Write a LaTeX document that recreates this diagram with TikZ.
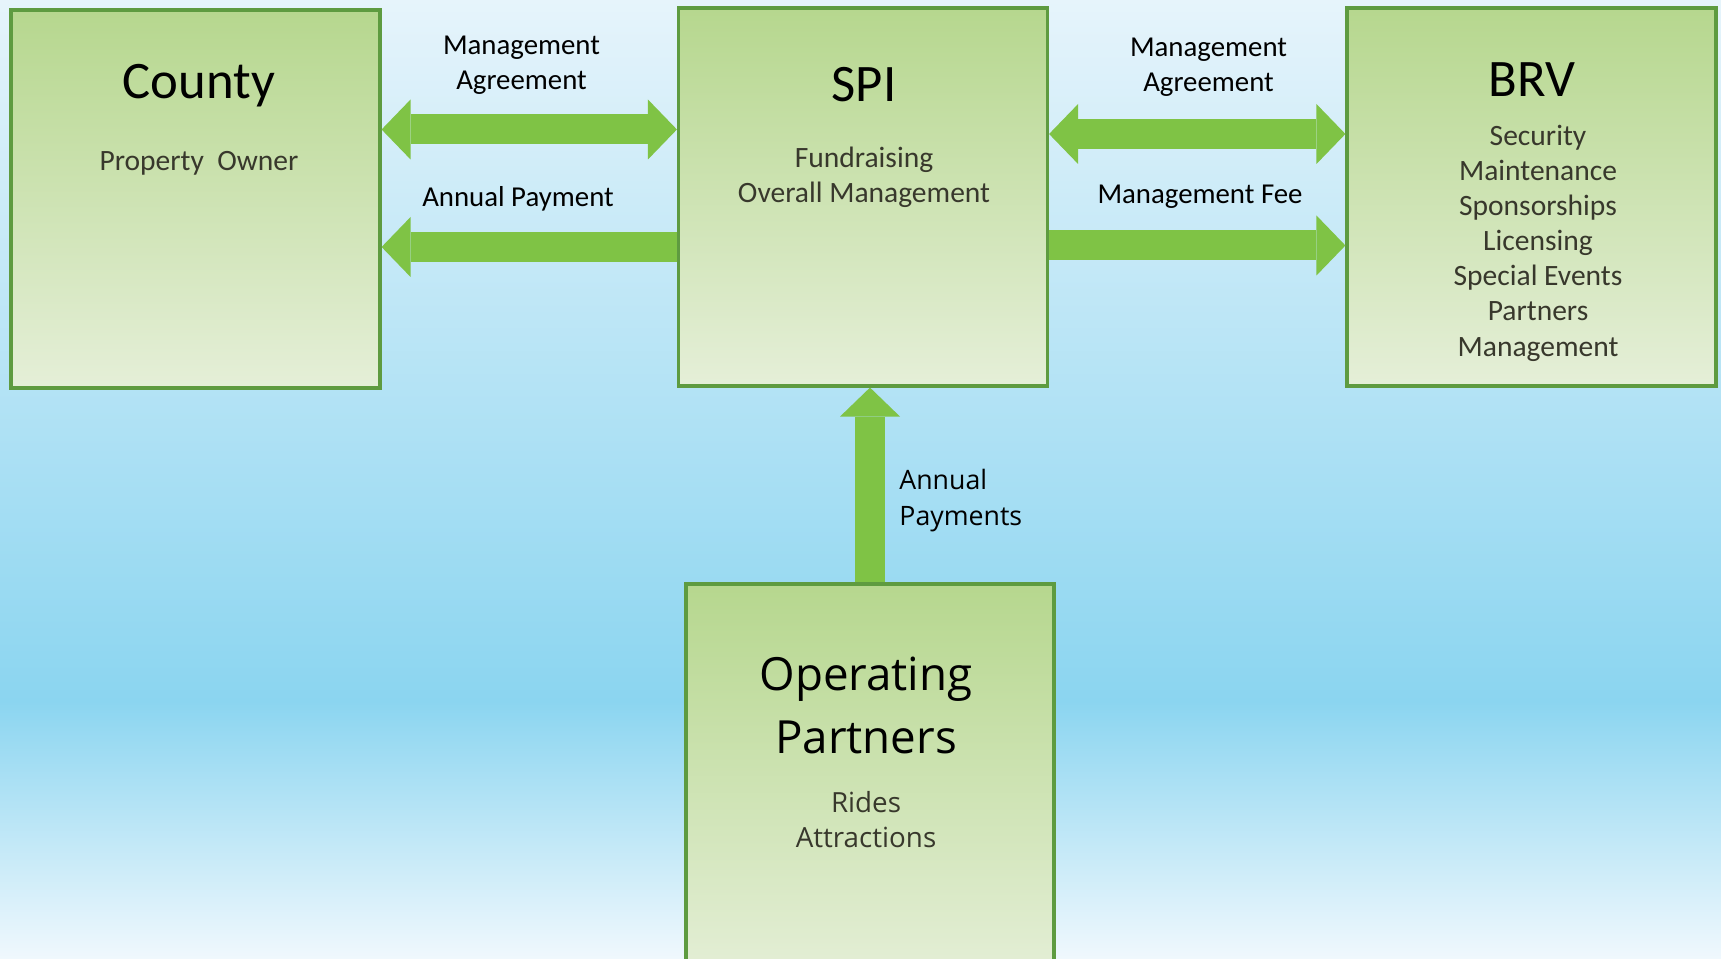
\documentclass[tikz,border=0pt]{standalone}
\usepackage{fontspec}
\setmainfont{Carlito}
\newfontfamily\opfont{Open Sans}
\usetikzlibrary{arrows.meta}
\definecolor{bgtop}{HTML}{E6F4FB}
\definecolor{bgmid}{HTML}{8BD5F0}
\definecolor{bgbot}{HTML}{F0F8FD}
\definecolor{boxtop}{HTML}{B6D78E}
\definecolor{boxbot}{HTML}{E5EFD8}
\definecolor{boxline}{HTML}{5E9B40}
\definecolor{arrowgreen}{HTML}{7FC345}
\definecolor{subtext}{HTML}{38382C}
\tikzset{
  box/.style={draw=boxline, line width=0.9pt, top color=boxtop, bottom color=boxbot,
    minimum width=3.69cm, minimum height=3.78cm, inner sep=0pt},
  boxtitle/.style={anchor=base, font=\fontsize{15}{18}\selectfont},
  boxsub/.style={anchor=base, align=center, text=subtext, font=\fontsize{8.4}{10}\selectfont},
  optitle/.style={anchor=base, align=center, font=\opfont\fontsize{13}{17.9}\selectfont},
  opsub/.style={anchor=base, align=center, text=subtext, font=\opfont\fontsize{7.9}{9.8}\selectfont},
  flowlabel/.style={anchor=base, align=center, font=\fontsize{8.2}{10}\selectfont},
  fat/.style={draw=arrowgreen, line width=0.3cm},
  fattip/.tip={Triangle[width=0.6cm, length=0.29cm, line width=0pt]}
}
\begin{document}
\begin{tikzpicture}
		%%%%% BACKGROUND %%%%%
		\useasboundingbox (0, 0) rectangle (17.21, -9.59);
		\shade[top color=bgtop, bottom color=bgmid] (0, 0) rectangle (17.21, -7.01);
		\shade[top color=bgmid, bottom color=bgbot] (0, -7.01) rectangle (17.21, -9.59);
		
		%%%%% BOXES %%%%%
		\node[box] (county) at (1.955, -1.99) {};
		\node[box] (spi) at (8.63, -1.97) {};
		\node[box] (brv) at (15.315, -1.97) {};
		\node[box, minimum width=3.68cm, minimum height=4cm] (op) at (8.70, -7.84) {};
		
		% multi-line texts sit on their last baseline
		\node[boxtitle] (countyname) at (1.99, -0.99) {County};
		\node[boxsub] (countyrole) at (1.99, -1.71) {Property\ \ Owner};
		
		\node[boxtitle] (spiname) at (8.64, -1.02) {SPI};
		\node[boxsub] (spirole) at (8.64, -2.03) {Fundraising\\Overall Management};
		
		\node[boxtitle] (brvname) at (15.32, -0.97) {BRV};
		\node[boxsub] (brvrole) at (15.38, -3.56) {Security\\Maintenance\\Sponsorships\\Licensing\\Special Events\\Partners\\Management};
		
		\node[optitle] (opname) at (8.66, -7.53) {Operating\\Partners};
		\node[opsub] (oprole) at (8.66, -8.47) {Rides\\Attractions};
		
		%%%%% FLOWS %%%%%
		\draw[fat, fattip-fattip] (county.east |- 0,-1.295) -- (spi.west |- 0,-1.295);
		\draw[fat, fattip-] (county.east |- 0,-2.47) -- (spi.west |- 0,-2.47);
		\draw[fat, fattip-fattip] (spi.east |- 0,-1.34) -- (brv.west |- 0,-1.34);
		\draw[fat, -fattip] (spi.east |- 0,-2.455) -- (brv.west |- 0,-2.455);
		\draw[fat, -fattip] (op.north) -- (op.north |- spi.south);
		
		\node[flowlabel] (agreeleft) at (5.215, -0.90) {Management\\Agreement};
		\node[flowlabel] (payleft) at (5.18, -2.07) {Annual Payment};
		\node[flowlabel] (agreeright) at (12.085, -0.92) {Management\\Agreement};
		\node[flowlabel] (feeright) at (12.0, -2.04) {Management Fee};
		\node[flowlabel, anchor=base west, align=left, font=\opfont\fontsize{7.6}{10}\selectfont] (payup) at (8.87, -5.25) {Annual\\Payments};
\end{tikzpicture}
\end{document}
